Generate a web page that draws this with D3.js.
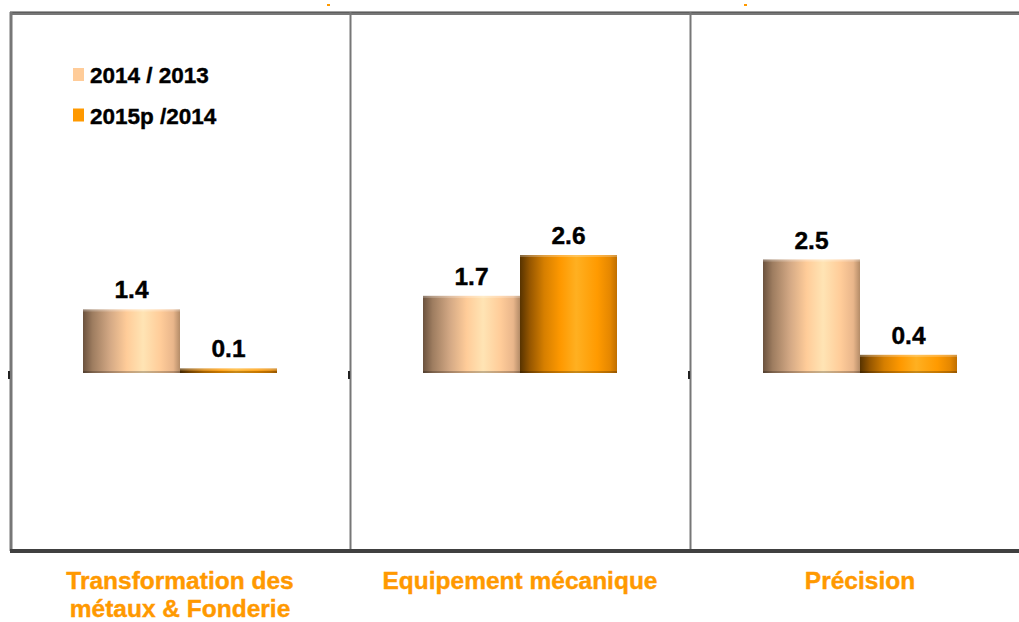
<!DOCTYPE html>
<html><head><meta charset="utf-8">
<script src="https://cdn.jsdelivr.net/npm/d3@7/dist/d3.min.js"></script>
<style>html,body{margin:0;padding:0;background:#fff;overflow:hidden}</style>
</head><body>
<svg id="chart" width="1019" height="622"></svg>
<script>
const categories = ["Transformation des|métaux & Fonderie", "Equipement mécanique", "Précision"];
const seriesNames = ["2014 / 2013", "2015p /2014"];
const series1 = [1.4, 1.7, 2.5];
const series2 = [0.1, 2.6, 0.4];
const seriesColors = ["#FFCC99", "#FF9900"];

const svg = d3.select("#chart");
const font = "'Liberation Sans', Arial, sans-serif";

// gradients
const defs = svg.append("defs");
const gradStops = [
  [[0,"#6b523e"],[0.1,"#9e7d60"],[0.28,"#d4a985"],[0.45,"#ffcc99"],[0.62,"#ffe4b4"],[0.8,"#ffcc99"],[0.93,"#e9b68b"],[1,"#b48c68"]],
  [[0,"#573300"],[0.1,"#955600"],[0.25,"#d67f00"],[0.42,"#ff9900"],[0.58,"#ffb021"],[0.8,"#ff9a00"],[0.93,"#e58700"],[1,"#c06f00"]]
];
gradStops.forEach((stops,i)=>{
  const g = defs.append("linearGradient").attr("id","g"+i).attr("x1","0").attr("x2","1").attr("y1","0").attr("y2","0");
  stops.forEach(s=>g.append("stop").attr("offset",s[0]).attr("stop-color",s[1]));
});

const x0 = d3.scaleBand().domain(categories).range([10, 1030]).paddingInner(0).paddingOuter(0);
const x1 = d3.scaleBand().domain([0,1]).range([73, 267]).padding(0);
const y = d3.scaleLinear().domain([0, 2.6]).range([373, 255]);

const data = categories.map((c,i)=>({cat:c, vals:[series1[i], series2[i]]}));

// frame
const frame = svg.append("g");
frame.append("line").attr("x1",10).attr("x2",1019).attr("y1",13.5).attr("y2",13.5).attr("stroke","#777").attr("stroke-width",3);
frame.append("line").attr("x1",10).attr("x2",1019).attr("y1",12).attr("y2",12).attr("stroke","#444").attr("stroke-width",1);
frame.append("line").attr("x1",11).attr("x2",11).attr("y1",12).attr("y2",551).attr("stroke","#777").attr("stroke-width",3);
categories.slice(1).forEach(c=>{
  frame.append("line").attr("x1",x0(c)+0.5).attr("x2",x0(c)+0.5).attr("y1",12).attr("y2",551).attr("stroke","#777").attr("stroke-width",2);
});
// baseline tick marks
categories.forEach(c=>{
  frame.append("rect").attr("x",x0(c)-2).attr("y",y(0)-2).attr("width",2).attr("height",8).attr("fill","#222");
});
frame.append("line").attr("x1",10).attr("x2",1019).attr("y1",551).attr("y2",551).attr("stroke","#404040").attr("stroke-width",4);

// small specks at top
svg.append("rect").attr("x",327).attr("y",4).attr("width",3).attr("height",2).attr("fill","#FF9900");
svg.append("rect").attr("x",744).attr("y",4).attr("width",3).attr("height",2).attr("fill","#FF9900");

// bars
const groups = svg.append("g").selectAll("g").data(data).join("g")
  .attr("transform", d=>`translate(${x0(d.cat)},0)`);

groups.each(function(d){
  const g = d3.select(this);
  d.vals.forEach((v,i)=>{
    const bx = x1(i), bw = x1.bandwidth();
    const top = y(v), h = y(0)-y(v);
    g.append("rect").attr("x",bx).attr("y",top).attr("width",bw).attr("height",h).attr("fill",`url(#g${i})`);
    g.append("rect").attr("x",bx).attr("y",top).attr("width",bw).attr("height",Math.min(2,h))
      .attr("fill", "#fff").attr("opacity",0.25);
    g.append("rect").attr("x",bx).attr("y",y(0)-2).attr("width",bw).attr("height",2)
      .attr("fill", "#000").attr("opacity",0.22);
    g.append("text").attr("x",bx+bw/2).attr("y",top-11).attr("text-anchor","middle")
      .attr("font-family",font).attr("font-weight","bold").attr("font-size",24.5).attr("fill","#000")
      .attr("stroke","#000").attr("stroke-width",0.4)
      .text(d3.format(".1f")(v));
  });
  const lines = d.cat.split("|");
  lines.forEach((t,k)=>{
    g.append("text").attr("x",x0.bandwidth()/2).attr("y",589+k*28).attr("text-anchor","middle")
      .attr("font-family",font).attr("font-weight","bold").attr("font-size",24.5).attr("fill","#FF9900")
      .attr("stroke","#FF9900").attr("stroke-width",0.4)
      .text(t);
  });
});

// legend
const leg = svg.append("g");
seriesNames.forEach((n,i)=>{
  leg.append("rect").attr("x",73).attr("y",68+i*40.5).attr("width",11).attr("height",13).attr("fill",seriesColors[i]);
  leg.append("text").attr("x",90).attr("y",83+i*40.5).attr("font-family",font).attr("font-weight","bold")
    .attr("font-size",22.5).attr("fill","#000").attr("stroke","#000").attr("stroke-width",0.4).text(n);
});
</script>
</body></html>
